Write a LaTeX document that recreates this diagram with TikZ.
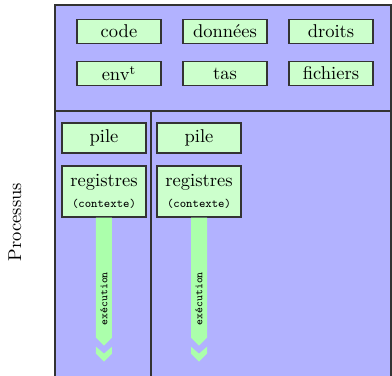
\documentclass[tikz,border=0pt]{standalone}
\usepackage{xcolor}
\usepackage{tikz}
\usetikzlibrary{positioning, calc}

\tikzset{
	part/.style = {draw = black!80, line width = 0.7pt, fill = green!20, inner sep = 0pt,
		minimum width = 45.36pt},
	ressource/.style = {part, minimum height = 12.96pt},
	frame/.style = {draw = black!80, line width = 0.9pt},
	runfill/.style = {fill = green!33}
}

\begin{document}
\begin{tikzpicture} [x = 0.54pt, y = -0.54pt, node distance = {22.68pt and 57.24pt}, on grid]
		% Picture size : 392 x 376 px
		\useasboundingbox (0,0) rectangle (392,376);
		\clip (0,0) rectangle (392,376);

		% Process frame
		\fill [blue!30] (55,5) rectangle (391,400);
		\draw [frame] (55,5) rectangle (391,400);
		\draw [frame] (55,111) -- (392,111);
		\draw [frame] (151,111) -- (151,380);

		\node (proc) [rotate = 90] at (15,222) {Processus};

		% Shared resources : every other node is measured based to code
		\node (code) [ressource] at (119,31.5) {code};
		\node (data) [ressource, right = of code] {données};
		\node (rights) [ressource, right = of data] {droits};
		\node (env) [ressource, below = of code] {env$^{\mathrm{t}}$};
		\node (heap) [ressource, below = of data] {tas};
		\node (files) [ressource, below = of rights] {fichiers};

		% Threads
		\node (stack1) [part, minimum height = 16.2pt] at (104,138) {pile};
		\node (stack2) [part, minimum height = 16.2pt, right = 51.3pt of stack1] {pile};
		\node (regs1) [part, minimum height = 27.54pt, below = 28.9pt of stack1, align = center]
		{registres\\[-1pt]{\fontsize{6.5}{8}\ttfamily (contexte)}};
		\node (regs2) [part, minimum height = 27.54pt, below = 28.9pt of stack2, align = center]
		{registres\\[-1pt]{\fontsize{6.5}{8}\ttfamily (contexte)}};

		% Execution arrows
		\foreach \t in {1, 2} {
			\coordinate (tip\t) at ($(regs\t.south)+(0,120)$);
			\fill [runfill] ($(regs\t.south)+(-8,0)$) -- ($(regs\t.south)+(8,0)$) -- ($(tip\t)+(8,0)$)
			-- ($(tip\t)+(0,8)$) -- ($(tip\t)+(-8,0)$) -- cycle;
			\fill [runfill] ($(tip\t)+(-8,9)$) -- ($(tip\t)+(0,16)$) -- ($(tip\t)+(8,9)$)
			-- ($(tip\t)+(8,16)$) -- ($(tip\t)+(0,24)$) -- ($(tip\t)+(-8,16)$) -- cycle;
			\node (run\t) [rotate = 90, font = \fontsize{6}{7}\ttfamily] at ($(regs\t.south)+(0,81)$) {exécution};
		}
	\end{tikzpicture}
\end{document}
